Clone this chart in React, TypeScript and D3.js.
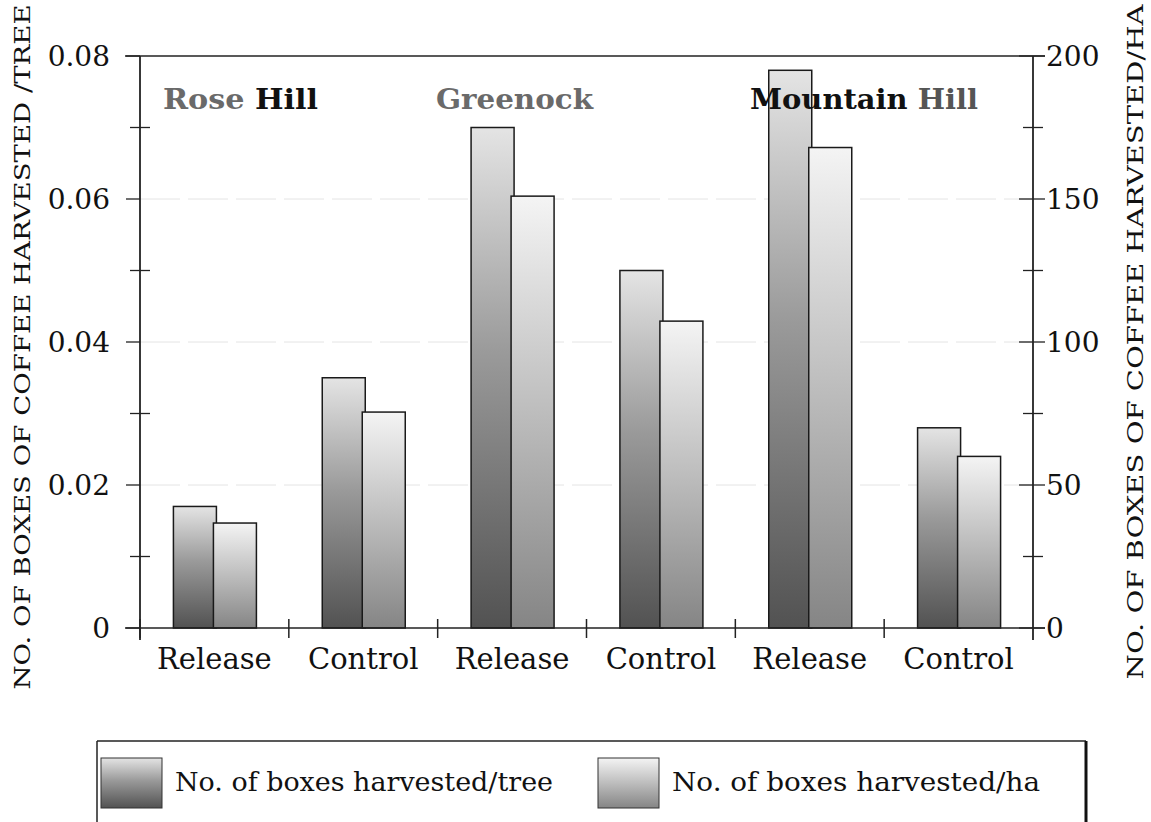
import React from "react";
import * as d3 from "d3";

const categories = ["Release", "Control", "Release", "Control", "Release", "Control"];
const perTree = [0.017, 0.035, 0.07, 0.05, 0.078, 0.028];
const perHa = [36.7, 75.5, 151, 107.3, 168, 60];
const leftTicks = [0, 0.02, 0.04, 0.06, 0.08];
const leftMinor = [0.01, 0.03, 0.05, 0.07];
const rightTicks = [0, 50, 100, 150, 200];
const rightMinor = [25, 75, 125, 175];
const seriesNames = ["No. of boxes harvested/tree", "No. of boxes harvested/ha"];

const W = 1151, H = 822;
const L = 140, R = 1033, T = 56, B = 628;
const serif = "'DejaVu Serif', serif";

export default function App() {
  const idx = categories.map((_, i) => i);
  const x = d3.scaleBand<number>().domain(idx).range([L, R]).padding(0);
  const y = d3.scaleLinear().domain([0, 0.08]).range([B, T]);
  const y2 = d3.scaleLinear().domain([0, 200]).range([B, T]);
  const bw = 43;
  const fmt = d3.format(".2f");
  const boundaries = d3.range(categories.length).map((i) => x(i)!);

  return (
    <svg width={W} height={H} style={{ display: "block", position: "absolute", left: 0, top: 0, background: "#fff" }}>
      <defs>
        <linearGradient id="gDark" x1="0" y1="0" x2="0" y2="1">
          <stop offset="0" stopColor="#e4e4e4" />
          <stop offset="0.45" stopColor="#9a9a9a" />
          <stop offset="1" stopColor="#525252" />
        </linearGradient>
        <linearGradient id="gLight" x1="0" y1="0" x2="0" y2="1">
          <stop offset="0" stopColor="#f4f4f4" />
          <stop offset="0.5" stopColor="#bdbdbd" />
          <stop offset="1" stopColor="#858585" />
        </linearGradient>
      </defs>
      <rect width={W} height={H} fill="#fff" />
      {/* gridlines */}
      {[0.02, 0.04, 0.06].map((v) => (
        <line key={v} x1={L} x2={R} y1={y(v)} y2={y(v)} stroke="#e4e4e4" strokeWidth={1} strokeDasharray="40 8" />
      ))}
      {/* top frame */}
      <line x1={125} x2={1045} y1={T} y2={T} stroke="#222" strokeWidth={1.3} />
      {/* bars */}
      {idx.map((i) => {
        const c = x(i)! + x.bandwidth() / 2;
        return (
          <g key={i}>
            <rect x={c - 41} y={y(perTree[i])} width={bw} height={B - y(perTree[i])} fill="url(#gDark)" stroke="#1a1a1a" strokeWidth={1.5} />
            <rect x={c - 1} y={y2(perHa[i])} width={bw} height={B - y2(perHa[i])} fill="url(#gLight)" stroke="#1a1a1a" strokeWidth={1.5} />
          </g>
        );
      })}
      {/* bottom axis */}
      <line x1={125} x2={1045} y1={B} y2={B} stroke="#222" strokeWidth={1.5} />
      {boundaries.map((bx, i) => (
        <line key={i} x1={bx} x2={bx} y1={B - 9} y2={B + 10} stroke="#222" strokeWidth={1.5} />
      ))}
      {idx.map((i) => (
        <text key={i} x={x(i)! + x.bandwidth() / 2} y={B + 41} textAnchor="middle" fontFamily={serif} fontSize={29} fill="#111">
          {categories[i]}
        </text>
      ))}
      {/* left axis */}
      <line x1={L} x2={L} y1={T} y2={B + 12} stroke="#222" strokeWidth={1.8} />
      {leftTicks.map((v) => (
        <g key={v}>
          <line x1={L - 14} x2={L} y1={y(v)} y2={y(v)} stroke="#222" strokeWidth={1.3} />
          <text x={L - 30} y={y(v) + 10} textAnchor="end" fontFamily={serif} fontSize={28} fill="#111">
            {v === 0 ? "0" : fmt(v)}
          </text>
        </g>
      ))}
      {leftMinor.map((v) => (
        <line key={v} x1={L - 10} x2={L + 10} y1={y(v)} y2={y(v)} stroke="#222" strokeWidth={1.3} />
      ))}
      {/* right axis */}
      <line x1={R} x2={R} y1={T} y2={B + 12} stroke="#222" strokeWidth={1.8} />
      {rightTicks.map((v) => (
        <g key={v}>
          <line x1={R - 14} x2={R + 12} y1={y2(v)} y2={y2(v)} stroke="#222" strokeWidth={1.3} />
          <text x={R + 13} y={y2(v) + 10} textAnchor="start" fontFamily={serif} fontSize={28} fill="#111">
            {v}
          </text>
        </g>
      ))}
      {rightMinor.map((v) => (
        <line key={v} x1={R - 10} x2={R + 10} y1={y2(v)} y2={y2(v)} stroke="#222" strokeWidth={1.3} />
      ))}
      {/* axis titles */}
      <text transform={`translate(30,${347}) rotate(-90)`} textAnchor="middle" fontFamily={serif} fontSize={23} fill="#111" textLength={685} lengthAdjust="spacingAndGlyphs">
        NO. OF BOXES OF COFFEE HARVESTED /TREE
      </text>
      <text transform={`translate(1143,${342}) rotate(-90)`} textAnchor="middle" fontFamily={serif} fontSize={23} fill="#111" textLength={675} lengthAdjust="spacingAndGlyphs">
        NO. OF BOXES OF COFFEE HARVESTED/HA
      </text>
      {/* location labels */}
      <text x={163} y={109} fontFamily={serif} fontWeight="bold" fontSize={28} textLength={155} lengthAdjust="spacingAndGlyphs">
        <tspan fill="#6a6a6a">Rose</tspan>
        <tspan fill="#111">{"  Hill"}</tspan>
      </text>
      <text x={436} y={109} fontFamily={serif} fontWeight="bold" fontSize={28} fill="#6a6a6a" textLength={157} lengthAdjust="spacingAndGlyphs">
        Greenock
      </text>
      <text x={750} y={109} fontFamily={serif} fontWeight="bold" fontSize={28} textLength={228} lengthAdjust="spacingAndGlyphs">
        <tspan fill="#111">Mountain</tspan>
        <tspan fill="#555"> Hill</tspan>
      </text>
      {/* legend */}
      <line x1={97} x2={1086} y1={741} y2={741} stroke="#222" strokeWidth={1.5} />
      <line x1={97} x2={97} y1={741} y2={H} stroke="#222" strokeWidth={1.5} />
      <line x1={1086} x2={1086} y1={741} y2={H} stroke="#111" strokeWidth={3} />
      <rect x={101} y={758} width={61} height={50} fill="url(#gDark)" stroke="#333" strokeWidth={1} />
      <text x={175} y={791} fontFamily={serif} fontSize={26} fill="#111" textLength={378} lengthAdjust="spacingAndGlyphs">{seriesNames[0]}</text>
      <rect x={598} y={758} width={61} height={50} fill="url(#gLight)" stroke="#333" strokeWidth={1} />
      <text x={672} y={791} fontFamily={serif} fontSize={26} fill="#111" textLength={368} lengthAdjust="spacingAndGlyphs">{seriesNames[1]}</text>
    </svg>
  );
}
